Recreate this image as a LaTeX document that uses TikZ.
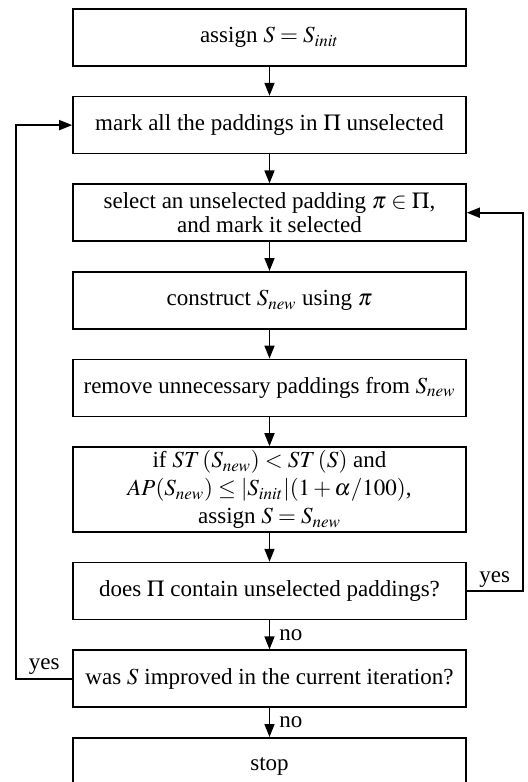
\documentclass[tikz,border=0pt]{standalone}
\usepackage{mathptmx}
\usepackage{fontspec}
\setmainfont{Liberation Serif}
\usetikzlibrary{arrows.meta,positioning}
\tikzset{
    flow chart/.style = {>={Triangle[length=6.5pt, width=5pt]},
                         node distance=14.5pt},
    line/.style       = {line width=0.8pt},
    stepbox/.style    = {draw, line width=0.8pt, fill=white, align=center,
                         minimum width=196.5pt, minimum height=28.5pt,
                         inner sep=2pt,
                         font=\fontsize{11.5}{12}\selectfont},
    tallbox/.style    = {stepbox, minimum height=42.5pt, inner ysep=0.5pt,
                         font=\fontsize{11.5}{14}\selectfont},
    answer/.style     = {font=\fontsize{11.5}{12}\selectfont, inner sep=1.5pt}
}

\begin{document}
\begin{tikzpicture}[flow chart]
\useasboundingbox (0,0) rectangle (264pt,-391pt);

% Main chain of steps
\node[stepbox] (init) at (134.75pt,-18.75pt) {assign $S = S_{init}$};
\node[stepbox, below=of init] (unmark)
    {mark all the paddings in $\Pi$ unselected};
\node[stepbox, below=of unmark] (select)
    {select an unselected padding $\pi \in \Pi$,\\ and mark it selected};
\node[stepbox, below=of select] (build) {construct $S_{new}$ using $\pi$};
\node[stepbox, below=of build] (prune)
    {remove unnecessary paddings from $S_{new}$};
\node[tallbox, below=of prune] (accept)
    {if $ST\,(S_{new}) < ST\,(S)$ and\\
     $AP(S_{new}) \leq |S_{init}|(1 + \alpha/100)$,\\
     assign $S = S_{new}$};
\node[stepbox, below=of accept] (more)
    {does $\Pi$ contain unselected paddings?};
\node[stepbox, below=of more] (improved)
    {was $S$ improved in the current iteration?};
\node[stepbox, below=of improved] (halt) {stop};

% Straight-down connections
\draw[->, line] (init) -- (unmark);
\draw[->, line] (unmark) -- (select);
\draw[->, line] (select) -- (build);
\draw[->, line] (build) -- (prune);
\draw[->, line] (prune) -- (accept);
\draw[->, line] (accept) -- (more);
\draw[->, line] (more) -- node[answer, right=3pt] {no} (improved);
\draw[->, line] (improved) -- node[answer, right=3pt] {no} (halt);

% Inner loop on the right
\coordinate[right=28pt of more.east] (again);
\draw[->, line] (more.east) -- node[answer, above] {yes} (again)
    |- (select.east);

% Outer loop on the left
\coordinate[left=28pt of improved.west] (back);
\draw[->, line] (improved.west) -- node[answer, above] {yes} (back)
    |- (unmark.west);

\end{tikzpicture}
\end{document}
